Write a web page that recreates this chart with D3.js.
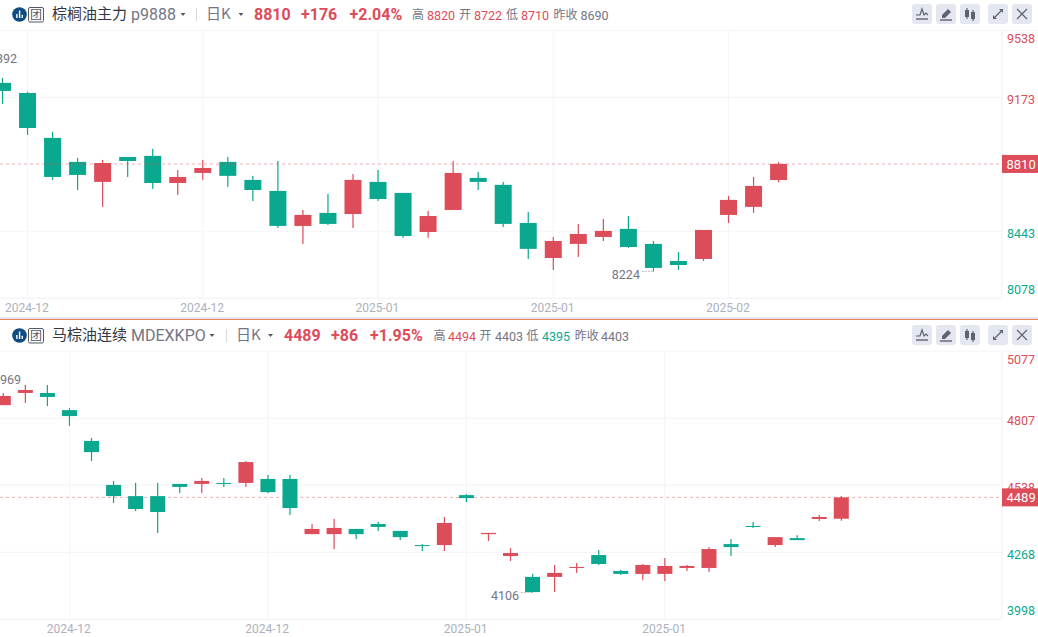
<!DOCTYPE html>
<html>
<head>
<meta charset="utf-8">
<script src="https://cdn.jsdelivr.net/npm/d3@7"></script>
<style>
    html, body { margin: 0; padding: 0; background: #fff; overflow: hidden; }
    svg { display: block; }
    text { font-family: "Noto Sans CJK SC", "Noto Sans", sans-serif; }
    .num { font-family: Roboto, "Noto Sans", sans-serif; }
</style>
</head>
<body>
<svg id="chart" width="1038" height="637"></svg>
<script>
// Candles as [open, high, low, close]
var palmCandles = [
    [9252, 9279, 9137, 9208], [9197, 9203, 8968, 9006], [8952, 8985, 8723, 8739], [8821, 8843, 8668, 8750],
    [8712, 8832, 8576, 8815], [8848, 8848, 8739, 8826], [8854, 8892, 8674, 8706], [8706, 8777, 8641, 8739],
    [8761, 8832, 8723, 8788], [8821, 8848, 8685, 8745], [8723, 8745, 8608, 8668], [8663, 8826, 8461, 8472],
    [8472, 8559, 8374, 8532], [8543, 8646, 8477, 8483], [8537, 8755, 8461, 8723], [8712, 8777, 8608, 8619],
    [8652, 8652, 8407, 8417], [8439, 8554, 8407, 8526], [8559, 8826, 8559, 8761], [8734, 8766, 8668, 8712],
    [8696, 8712, 8466, 8483], [8488, 8548, 8292, 8347], [8297, 8412, 8232, 8390], [8374, 8483, 8303, 8428],
    [8412, 8510, 8390, 8445], [8456, 8526, 8352, 8357], [8374, 8390, 8224, 8243], [8281, 8330, 8232, 8259],
    [8292, 8450, 8281, 8450], [8532, 8636, 8488, 8614], [8576, 8739, 8543, 8690], [8722, 8820, 8710, 8810]
];
var mdexCandles = [
    [4860, 4909, 4860, 4897], [4909, 4941, 4869, 4921], [4909, 4941, 4856, 4893], [4840, 4848, 4776, 4816],
    [4716, 4728, 4635, 4671], [4539, 4555, 4466, 4494], [4494, 4547, 4434, 4442], [4494, 4547, 4346, 4430],
    [4543, 4543, 4506, 4531], [4543, 4567, 4506, 4555], [4547, 4567, 4531, 4544], [4547, 4635, 4531, 4631],
    [4563, 4579, 4506, 4510], [4563, 4579, 4418, 4446], [4341, 4382, 4341, 4362], [4341, 4402, 4281, 4366],
    [4362, 4362, 4321, 4341], [4382, 4390, 4354, 4370], [4354, 4354, 4317, 4329], [4297, 4301, 4273, 4293],
    [4297, 4410, 4273, 4386], [4498, 4502, 4470, 4486], [4341, 4346, 4313, 4346], [4253, 4285, 4233, 4265],
    [4169, 4181, 4106, 4108], [4169, 4217, 4108, 4185], [4205, 4225, 4185, 4209], [4257, 4277, 4217, 4221],
    [4193, 4197, 4177, 4181], [4181, 4221, 4156, 4217], [4181, 4245, 4152, 4213], [4205, 4217, 4193, 4213],
    [4205, 4289, 4189, 4281], [4301, 4321, 4253, 4289], [4374, 4390, 4366, 4370], [4297, 4329, 4289, 4329],
    [4325, 4337, 4317, 4317], [4402, 4418, 4394, 4410], [4403, 4494, 4395, 4489]
];
var palmTicks = [9538, 9173, 8443, 8078];
var mdexTicks = [5077, 4807, 4538, 4268, 3998];
var palmDateIdx = [1, 8, 15, 22, 29];
var palmDates = ['2024-12', '2024-12', '2025-01', '2025-01', '2025-02'];
var mdexDateIdx = [3, 12, 21, 30];
var mdexDates = ['2024-12', '2024-12', '2025-01', '2025-01'];

var UP = '#dc4c59', DOWN = '#0aa88e', GRID = '#f4f5f7', AXIS_GREY = '#aeb0bd', TEXT_GREY = '#737585';
var svg = d3.select('#chart');

/** Draws one panel: header row, grid, candles, axes and price tag */
function drawPanel(cfg) {
    var g = svg.append('g').attr('transform', 'translate(0,' + cfg.top + ')');
    var y = d3.scaleLinear().domain(cfg.yDomain).range([cfg.plotTop, cfg.plotBottom]);
    var x = d3.scaleLinear().domain([0, cfg.candles.length - 1]).range(cfg.xRange);
    var RIGHT = 1002;

    // Frame lines
    g.append('line').attr('x1', 0).attr('x2', 1038).attr('y1', cfg.plotTop).attr('y2', cfg.plotTop).attr('stroke', GRID);
    g.append('line').attr('x1', 0).attr('x2', RIGHT).attr('y1', cfg.plotBottom).attr('y2', cfg.plotBottom).attr('stroke', GRID).attr('stroke-width', 1.5);
    g.append('line').attr('x1', RIGHT).attr('x2', RIGHT).attr('y1', cfg.plotTop).attr('y2', cfg.plotBottom).attr('stroke', GRID).attr('stroke-width', 1.5);

    // Grid
    g.selectAll('.hgrid').data(cfg.ticks.filter(function(d, i) { return i > 0 && i < cfg.ticks.length - 1; }))
        .enter().append('line')
        .attr('x1', 0).attr('x2', RIGHT)
        .attr('y1', function(d) { return y(d); }).attr('y2', function(d) { return y(d); })
        .attr('stroke', GRID).attr('stroke-width', 1.2);
    g.selectAll('.vgrid').data(cfg.dateIdx)
        .enter().append('line')
        .attr('x1', function(d) { return x(d); }).attr('x2', function(d) { return x(d); })
        .attr('y1', cfg.plotTop).attr('y2', cfg.plotBottom)
        .attr('stroke', GRID).attr('stroke-width', 1.2);

    // Last price line, the upper panel paints it over the candles
    var drawLastLine = function() {
        g.append('line').attr('x1', 0).attr('x2', RIGHT)
            .attr('y1', y(cfg.last)).attr('y2', y(cfg.last))
            .attr('stroke', cfg.lastStroke).attr('stroke-width', cfg.lastWidth)
            .attr('stroke-dasharray', '3 3');
    };
    if (!cfg.lastOnTop) drawLastLine();

    // Candles
    var candle = g.selectAll('.candle').data(cfg.candles).enter().append('g');
    candle.append('rect')
        .attr('x', function(d, i) { return x(i) - 0.6; })
        .attr('width', 1.2)
        .attr('y', function(d) { return y(d[1]); })
        .attr('height', function(d) { return y(d[2]) - y(d[1]); })
        .attr('fill', function(d) { return d[3] >= d[0] ? UP : DOWN; });
    candle.append('rect')
        .attr('x', function(d, i) { return x(i) - cfg.bodyWidth / 2; })
        .attr('width', cfg.bodyWidth)
        .attr('y', function(d) { return y(Math.max(d[0], d[3])); })
        .attr('height', function(d) { return Math.max(1, Math.abs(y(d[0]) - y(d[3]))); })
        .attr('fill', function(d) { return d[3] >= d[0] ? UP : DOWN; });
    if (cfg.lastOnTop) drawLastLine();

    // Right axis labels, the end labels sit inside the plot
    g.selectAll('.ytick').data(cfg.ticks).enter().append('text')
        .attr('class', 'num')
        .attr('x', 1007)
        .attr('y', function(d, i) {
            if (i === 0) return y(d) + 12.5;
            if (i === cfg.ticks.length - 1) return y(d) - 4.5;
            return y(d) + 6.5;
        })
        .attr('font-size', 12.5)
        .attr('fill', function(d) { return d > cfg.last ? UP : DOWN; })
        .text(function(d) { return d; });

    // Price tag
    g.append('rect').attr('x', RIGHT).attr('width', 36).attr('y', y(cfg.last) - 9).attr('height', 18).attr('fill', UP);
    g.append('text').attr('class', 'num').attr('x', 1006.5).attr('y', y(cfg.last) + 4.7)
        .attr('font-size', 13).attr('fill', '#fff').text(cfg.last);

    // Date labels
    g.selectAll('.xtick').data(cfg.dateIdx).enter().append('text')
        .attr('class', 'num')
        .attr('x', function(d) { return x(d) - 0.7; })
        .attr('y', cfg.plotBottom + 14)
        .attr('text-anchor', 'middle')
        .attr('font-size', 12)
        .attr('fill', AXIS_GREY)
        .text(function(d, i) { return cfg.dates[i]; });

    // High and low notes
    g.append('text').attr('class', 'num').attr('x', cfg.hiNote.x).attr('y', y(cfg.hiNote.v) + 5.5)
        .attr('font-size', 12.5).attr('fill', TEXT_GREY).attr('text-anchor', 'end').text(cfg.hiNote.v);
    var lowX = x(cfg.lowNote.i);
    g.append('text').attr('class', 'num').attr('x', lowX - 13.5).attr('y', y(cfg.lowNote.v) + 7.5)
        .attr('font-size', 12.5).attr('fill', TEXT_GREY).attr('text-anchor', 'end').text(cfg.lowNote.v);
    g.append('line').attr('x1', lowX - 11).attr('x2', lowX - 1)
        .attr('y1', y(cfg.lowNote.v)).attr('y2', y(cfg.lowNote.v))
        .attr('stroke', '#85879a').attr('stroke-dasharray', '1 2');

    var head = g.append('g').attr('transform', 'translate(0,' + cfg.headDy + ')');
    drawHeader(head, cfg);
    drawButtons(head);
}

/** Draws the logo, the name and the quote row */
function drawHeader(g, cfg) {
    g.append('circle').attr('cx', 19.5).attr('cy', 14.5).attr('r', 7.3).attr('fill', '#0f4c81');
    [[16.2, 14, 4], [18.9, 10.5, 7.5], [21.6, 14.8, 3.2]].forEach(function(b) {
        g.append('rect').attr('x', b[0]).attr('y', b[1]).attr('width', 1.4).attr('height', b[2]).attr('fill', '#fff');
    });
    g.append('rect').attr('x', 28.5).attr('y', 7.5).attr('width', 15).attr('height', 14.5).attr('rx', 1.5)
        .attr('fill', '#fff').attr('stroke', '#555866');
    g.append('text').attr('x', 36).attr('y', 19).attr('text-anchor', 'middle').attr('font-size', 12).attr('fill', '#555866').text('团');

    cfg.header.forEach(function(t) {
        g.append('text').attr('x', t.x).attr('y', t.cn ? 19 : 19.5)
            .attr('class', t.cn ? null : 'num')
            .attr('font-size', t.size)
            .attr('font-weight', t.bold ? 700 : 400)
            .attr('fill', t.color)
            .text(t.text);
    });
    cfg.carets.forEach(function(cx) {
        g.append('path').attr('d', 'M' + (cx - 2.5) + ',13h5l-2.5,3z').attr('fill', '#555866');
    });
    g.append('line').attr('x1', cfg.divider).attr('x2', cfg.divider).attr('y1', 8).attr('y2', 21).attr('stroke', '#d5d7de');
}

/** Draws the five small toolbar buttons */
function drawButtons(g) {
    var STROKE = '#5f6270';
    [912, 936, 960, 988, 1012].forEach(function(bx, i) {
        g.append('rect').attr('x', bx).attr('y', 4).attr('width', 20).attr('height', 20).attr('rx', 3).attr('fill', '#e4e7ef');
        var ic = g.append('g').attr('transform', 'translate(' + bx + ',4)');
        var line = function(d, w) { ic.append('path').attr('d', d).attr('fill', 'none').attr('stroke', STROKE).attr('stroke-width', w || 1.2); };
        if (i === 0) {
            line('M4,11L8,11L10,5L12,11L14,9L16,11');
            line('M4,15H16', 1.4);
        } else if (i === 1) {
            ic.append('path').attr('d', 'M6,11L12,5L15,8L9,14H6z').attr('fill', STROKE);
            line('M4,16H16', 1.4);
        } else if (i === 2) {
            ic.append('rect').attr('x', 5).attr('y', 6).attr('width', 4).attr('height', 7).attr('fill', STROKE);
            ic.append('rect').attr('x', 11).attr('y', 8).attr('width', 4).attr('height', 7).attr('fill', STROKE);
            line('M7,4V15M13,6V17');
        } else if (i === 3) {
            line('M7,13L13,7');
            ic.append('path').attr('d', 'M11,5H15V9zM5,11V15H9z').attr('fill', STROKE);
        } else {
            line('M5,5L15,15M15,5L5,15');
        }
    });
}

drawPanel({
    top: 0,
    headDy: 0,
    candles: palmCandles,
    ticks: palmTicks,
    dateIdx: palmDateIdx,
    dates: palmDates,
    yDomain: [9538, 8078],
    plotTop: 30.4,
    plotBottom: 298.2,
    xRange: [2.5, 778.6],
    bodyWidth: 17,
    last: 8810,
    lastStroke: 'rgba(220,76,89,0.3)',
    lastWidth: 1.5,
    lastOnTop: true,
    hiNote: { x: 17, v: 9392 },
    lowNote: { i: 26, v: 8224 },
    divider: 196.5,
    carets: [183, 241],
    header: [
        { x: 52, text: '棕榈油主力', size: 15, color: '#333642', cn: true },
        { x: 131, text: 'p9888', size: 16, color: '#737585' },
        { x: 206, text: '日K', size: 15, color: '#737585', cn: true },
        { x: 254, text: '8810', size: 16, color: UP, bold: true },
        { x: 301, text: '+176', size: 16, color: UP, bold: true },
        { x: 349.5, text: '+2.04%', size: 16, color: UP, bold: true },
        { x: 412, text: '高', size: 12, color: '#737585', cn: true },
        { x: 427, text: '8820', size: 12.5, color: UP },
        { x: 459, text: '开', size: 12, color: '#737585', cn: true },
        { x: 474, text: '8722', size: 12.5, color: UP },
        { x: 506, text: '低', size: 12, color: '#737585', cn: true },
        { x: 521, text: '8710', size: 12.5, color: UP },
        { x: 553.5, text: '昨收', size: 12, color: '#737585', cn: true },
        { x: 580.5, text: '8690', size: 12.5, color: '#737585' }
    ]
});

drawPanel({
    top: 320,
    headDy: 1,
    candles: mdexCandles,
    ticks: mdexTicks,
    dateIdx: mdexDateIdx,
    dates: mdexDates,
    yDomain: [5077, 3998],
    plotTop: 31.2,
    plotBottom: 299.4,
    xRange: [3.3, 841.3],
    bodyWidth: 15,
    last: 4489,
    lastStroke: '#eeb0b5',
    lastWidth: 1,
    lastOnTop: false,
    hiNote: { x: 21, v: 4969 },
    lowNote: { i: 24, v: 4106 },
    divider: 226.5,
    carets: [212, 270.5],
    header: [
        { x: 52, text: '马棕油连续', size: 15, color: '#333642', cn: true },
        { x: 131, text: 'MDEXKPO', size: 16, color: '#737585' },
        { x: 236, text: '日K', size: 15, color: '#737585', cn: true },
        { x: 284, text: '4489', size: 16, color: UP, bold: true },
        { x: 331, text: '+86', size: 16, color: UP, bold: true },
        { x: 370, text: '+1.95%', size: 16, color: UP, bold: true },
        { x: 433.5, text: '高', size: 12, color: '#737585', cn: true },
        { x: 448, text: '4494', size: 12.5, color: UP },
        { x: 479.6, text: '开', size: 12, color: '#737585', cn: true },
        { x: 495, text: '4403', size: 12.5, color: '#737585' },
        { x: 526.5, text: '低', size: 12, color: '#737585', cn: true },
        { x: 542, text: '4395', size: 12.5, color: DOWN },
        { x: 574.7, text: '昨收', size: 12, color: '#737585', cn: true },
        { x: 601, text: '4403', size: 12.5, color: '#737585' }
    ]
});

// Splitter between the two panels
svg.append('rect').attr('x', 0).attr('y', 317.3).attr('width', 1038).attr('height', 1.7).attr('fill', '#dfe1e6');
svg.append('rect').attr('x', 0).attr('y', 319).attr('width', 1038).attr('height', 1).attr('fill', '#f0815f');
</script>
</body>
</html>
